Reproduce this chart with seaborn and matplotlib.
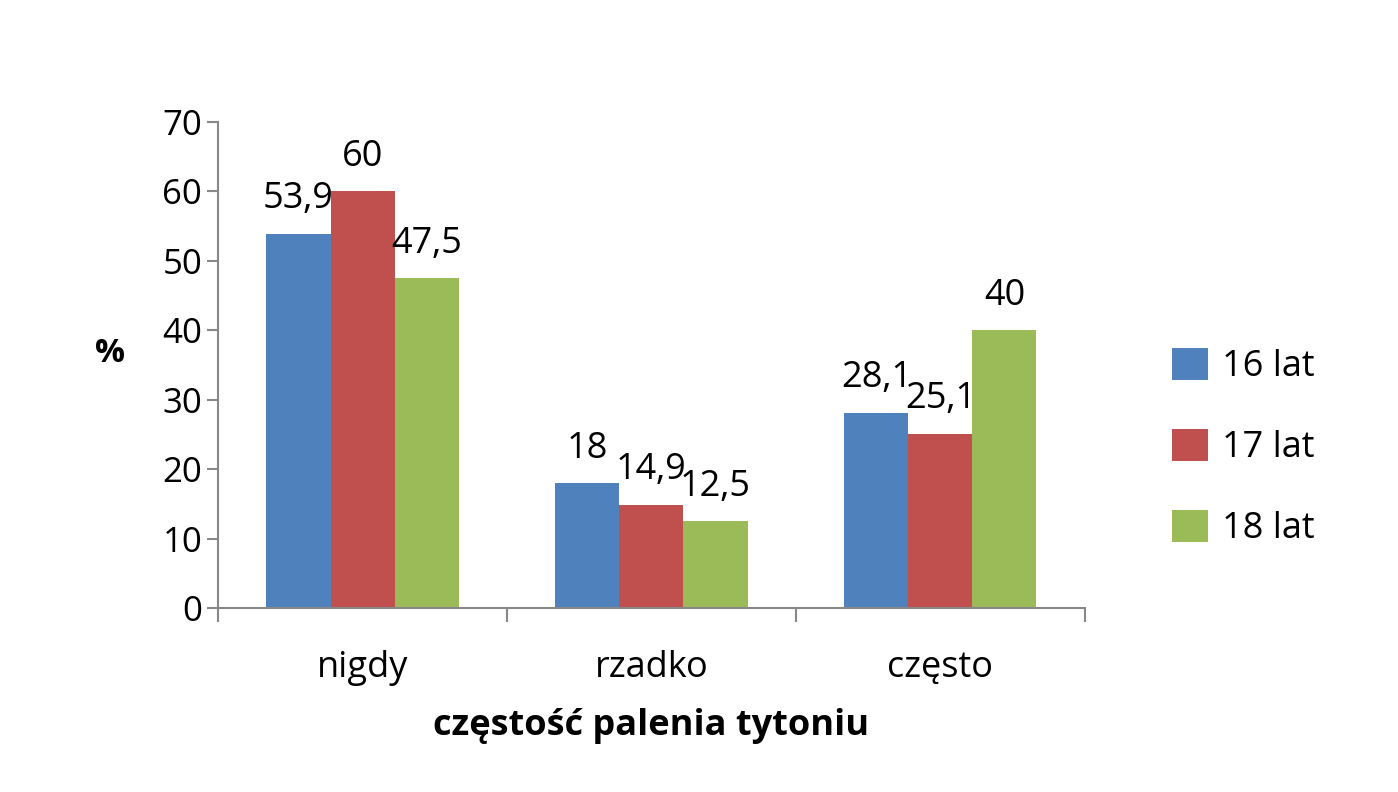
import matplotlib
matplotlib.use("Agg")
import matplotlib.pyplot as plt
import seaborn as sns
import pandas as pd

categories = ["nigdy", "rzadko", "często"]
series = ["16 lat", "17 lat", "18 lat"]
v16 = [53.9, 18, 28.1]
v17 = [60, 14.9, 25.1]
v18 = [47.5, 12.5, 40]
colors = ["#4F81BD", "#C0504D", "#9BBB59"]

rows = []
for s, vals in zip(series, [v16, v17, v18]):
    for c, v in zip(categories, vals):
        rows.append({"kat": c, "wiek": s, "val": v})
df = pd.DataFrame(rows)

plt.rcParams["font.family"] = "Open Sans"
fig = plt.figure(figsize=(13.98, 7.92), dpi=100)
ax = fig.add_axes([0.156, 0.232, 0.62, 0.614])
sns.barplot(data=df, x="kat", y="val", hue="wiek", palette=colors, width=0.665,
            saturation=1, ax=ax, legend=True)

for cont in ax.containers:
    labels = [f"{v:g}".replace(".", ",") for v in cont.datavalues]
    ax.bar_label(cont, labels=labels, padding=12, fontsize=26)

ax.set_ylim(0, 70)
ax.set_yticks(range(0, 71, 10))
ax.set_xlim(-0.5, 2.5)
ax.set_xticks([-0.5, 0.5, 1.5, 2.5], minor=True)
ax.tick_params(axis="x", which="major", length=0, labelsize=26, pad=30)
ax.tick_params(axis="x", which="minor", length=10, width=1.5, color="#888888")
ax.tick_params(axis="y", labelsize=25, length=8, width=1.5, color="#888888")
for s in ["top", "right"]:
    ax.spines[s].set_visible(False)
for s in ["left", "bottom"]:
    ax.spines[s].set_color("#888888")
    ax.spines[s].set_linewidth(1.5)
ax.set_xlabel("częstość palenia tytoniu", fontsize=26, fontweight="bold", labelpad=16)
ax.set_ylabel("%", fontsize=24, fontweight="bold", rotation=0)
ax.yaxis.set_label_coords(-0.125, 0.49)

h, l = ax.get_legend_handles_labels()
ax.get_legend().remove()
fig.legend(h, l, loc="center left", bbox_to_anchor=(0.815, 0.435), frameon=False,
           fontsize=26, labelspacing=1.2, handlelength=1.0, handleheight=1.0, handletextpad=0.4)

fig.savefig("out.png", dpi=100)
